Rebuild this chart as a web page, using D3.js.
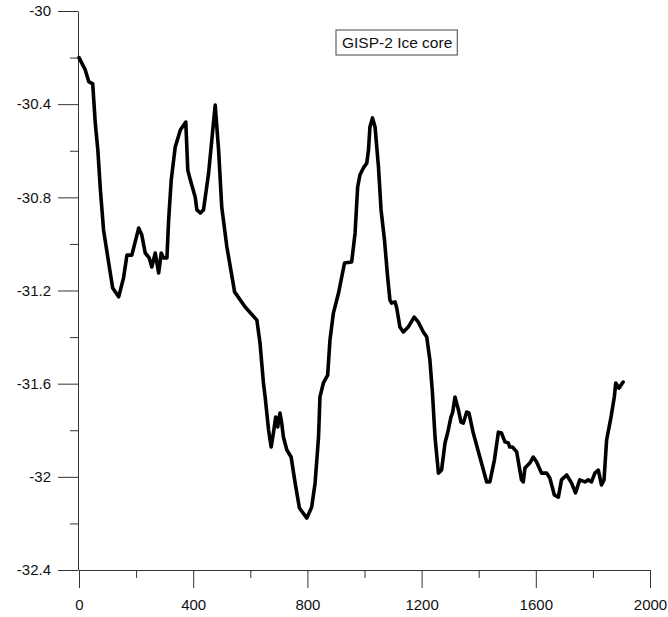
<!DOCTYPE html>
<html>
<head>
<meta charset="utf-8">
<script src="https://cdn.jsdelivr.net/npm/d3@7"></script>
<style>
  html, body { margin: 0; padding: 0; background: #fff; }
  svg { display: block; font-family: "Liberation Sans", Arial, sans-serif; }
</style>
</head>
<body>
<svg id="chart" width="668" height="617"></svg>
<script>
// Year (x) and GISP-2 isotope value (y)
const years = [0,22,34,48,57,66,75,86,104,118,139,156,168,185,209,220,232,246,255,267,279,288,296,308,314,323,337,355,374,381,390,407,413,425,436,454,477,489,500,518,545,582,623,634,646,652,664,673,681,689,696,704,710,716,728,743,757,772,798,815,827,839,844,856,871,879,891,909,930,955,967,976,984,996,1008,1014,1019,1028,1037,1049,1058,1070,1081,1089,1095,1107,1113,1124,1136,1153,1174,1188,1206,1218,1229,1238,1247,1259,1270,1282,1291,1303,1309,1317,1329,1338,1346,1358,1366,1381,1404,1428,1439,1455,1469,1480,1492,1504,1509,1518,1533,1550,1556,1562,1579,1591,1603,1620,1638,1649,1665,1679,1690,1708,1725,1739,1754,1772,1784,1795,1807,1819,1830,1839,1848,1863,1875,1880,1891,1906];
const values = [-30.20,-30.253,-30.303,-30.313,-30.481,-30.597,-30.769,-30.940,-31.082,-31.189,-31.227,-31.146,-31.048,-31.048,-30.932,-30.962,-31.039,-31.060,-31.099,-31.039,-31.125,-31.039,-31.060,-31.060,-30.897,-30.726,-30.584,-30.511,-30.477,-30.683,-30.726,-30.799,-30.854,-30.867,-30.854,-30.696,-30.404,-30.597,-30.842,-31.013,-31.206,-31.271,-31.327,-31.425,-31.597,-31.657,-31.799,-31.872,-31.812,-31.743,-31.786,-31.726,-31.769,-31.829,-31.885,-31.915,-32.026,-32.134,-32.177,-32.130,-32.026,-31.829,-31.657,-31.597,-31.563,-31.413,-31.297,-31.211,-31.082,-31.078,-30.953,-30.756,-30.704,-30.674,-30.653,-30.597,-30.498,-30.459,-30.498,-30.670,-30.854,-30.983,-31.142,-31.241,-31.254,-31.249,-31.275,-31.357,-31.378,-31.357,-31.314,-31.335,-31.378,-31.400,-31.498,-31.640,-31.829,-31.984,-31.971,-31.855,-31.812,-31.743,-31.722,-31.657,-31.713,-31.765,-31.769,-31.722,-31.726,-31.812,-31.915,-32.022,-32.022,-31.928,-31.808,-31.812,-31.850,-31.855,-31.872,-31.872,-31.893,-32.013,-32.022,-31.962,-31.941,-31.915,-31.936,-31.984,-31.984,-32.005,-32.078,-32.087,-32.013,-31.992,-32.026,-32.069,-32.013,-32.022,-32.013,-32.022,-31.984,-31.971,-32.035,-32.013,-31.842,-31.747,-31.657,-31.597,-31.619,-31.593];

const xTickValues = [0, 400, 800, 1200, 1600, 2000];
const xMinorValues = [200, 600, 1000, 1400, 1800];
const yTickValues = [-30, -30.4, -30.8, -31.2, -31.6, -32, -32.4];
const yMinorValues = [-30.2, -30.6, -31.0, -31.4, -31.8, -32.2];
const titleText = "GISP-2 Ice core";

const svg = d3.select("#chart");
const x = d3.scaleLinear().domain([0, 2000]).range([79, 650]);
const y = d3.scaleLinear().domain([-32.4, -30]).range([570, 11]);
const axisColor = "#333";

// X axis
const gx = svg.append("g").attr("transform", `translate(0,${y(-32.4)})`);
gx.call(d3.axisBottom(x).tickValues(xTickValues).tickSize(18).tickSizeOuter(0).tickPadding(8)
  .tickFormat(d3.format("d")));
gx.append("g").call(d3.axisBottom(x).tickValues(xMinorValues).tickSize(8).tickFormat(""))
  .select(".domain").remove();

// Y axis
const gy = svg.append("g").attr("transform", `translate(${x(0) - 1},0)`);
gy.call(d3.axisLeft(y).tickValues(yTickValues).tickSize(20).tickSizeOuter(0).tickPadding(7)
  .tickFormat(d => String(+d.toFixed(1))));
gy.append("g").call(d3.axisLeft(y).tickValues(yMinorValues).tickSize(8).tickFormat(""))
  .select(".domain").remove();

svg.selectAll(".domain").attr("stroke", axisColor).attr("stroke-width", 1);
svg.selectAll(".tick line").attr("stroke", axisColor).attr("stroke-width", 1);
svg.selectAll(".tick text").attr("fill", "#111").style("font-size", "15px")
  .style("font-family", "'Liberation Sans', Arial, sans-serif");
gx.selectAll(".tick text").attr("dy", "0.9em");

// Data line
const data = years.map((yr, i) => ({ yr, v: values[i] }));
svg.append("path")
  .datum(data)
  .attr("fill", "none")
  .attr("stroke", "#000")
  .attr("stroke-width", 3.6)
  .attr("stroke-linejoin", "round")
  .attr("stroke-linecap", "round")
  .attr("d", d3.line().x(d => x(d.yr)).y(d => y(d.v)));

// Title box
const tg = svg.append("g");
const tt = tg.append("text")
  .attr("x", 342).attr("y", 48)
  .style("font-size", "15.5px")
  .attr("fill", "#111")
  .text(titleText);
const bb = tt.node().getBBox();
tg.insert("rect", "text")
  .attr("x", bb.x - 6).attr("y", 30)
  .attr("width", bb.width + 11).attr("height", 25)
  .attr("fill", "#fff").attr("stroke", "#444").attr("stroke-width", 1);
</script>
</body>
</html>
